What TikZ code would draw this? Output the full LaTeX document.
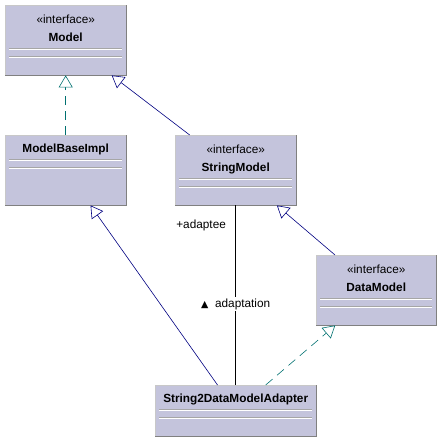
\documentclass[tikz,border=0pt]{standalone}
\usepackage{fontspec}
\setmainfont{Liberation Sans}
\newfontfamily\symfont{DejaVu Sans}
\usetikzlibrary{positioning}
\usetikzlibrary{calc}
\usetikzlibrary{arrows.meta}
\definecolor{umlfill}{RGB}{196,196,220}
\definecolor{umlnavy}{RGB}{0,0,128}
\definecolor{umlteal}{RGB}{0,112,112}
\definecolor{umledge}{RGB}{200,200,200}
\definecolor{umlshade}{RGB}{128,128,128}

\begin{document}
\begin{tikzpicture}[
    x=1pt, y=-1pt,
    box/.style={
        draw=umledge,
        fill=umlfill,
        anchor=north west,
        inner sep=0pt,
        minimum width=121pt,
        minimum height=70pt
    },
    stereo/.style={font=\fontsize{11.8}{13}\selectfont, inner sep=0pt},
    cname/.style={font=\fontsize{11.8}{13}\selectfont\bfseries, inner sep=0pt},
    sep/.style={draw=umlshade!70, line width=0.8pt},
    gen/.style={draw=umlnavy, line width=0.6pt,
        -{Triangle[open, fill=white, width=14pt, length=12pt]}},
    real/.style={draw=umlteal, line width=0.6pt, dash pattern=on 9pt off 6pt,
        -{Triangle[open, fill=white, width=14pt, length=12pt]}},
    assoc/.style={draw=black, line width=0.6pt},
    lbl/.style={font=\fontsize{11.8}{13}\selectfont, inner sep=1.5pt}
]
\useasboundingbox (0,0) rectangle (445,445);

% Classes
\node[box] (model) at (5,5) {};
\node[box] (modelbase) at (5,135) {};
\node[box] (stringmodel) at (175,135) {};
\node[box, minimum width=120pt] (datamodel) at (316,255) {};
\node[box, minimum width=161pt, minimum height=51pt] (adapter) at (155,385) {};

% Names
\node[stereo] (modelS) at ($(model.north)+(0,14)$) {«interface»};
\node[cname] (modelN) at ($(model.north)+(0,32)$) {Model};
\node[cname] (modelbaseN) at ($(modelbase.north)+(0,14)$) {ModelBaseImpl};
\node[stereo] (stringmodelS) at ($(stringmodel.north)+(0,14)$) {«interface»};
\node[cname] (stringmodelN) at ($(stringmodel.north)+(0,33)$) {StringModel};
\node[stereo] (datamodelS) at ($(datamodel.north)+(0,14)$) {«interface»};
\node[cname] (datamodelN) at ($(datamodel.north)+(0,32)$) {DataModel};
\node[cname] (adapterN) at ($(adapter.north)+(0,14)$) {String2DataModelAdapter};

% Compartments and shadows
\foreach \n/\a/\b in {model/43/51, modelbase/24/32, stringmodel/43/51,
                      datamodel/43/51, adapter/24/32} {
    \draw[sep] ($(\n.north west)+(4,\a)$) -- ($(\n.north east)+(-4,\a)$);
    \draw[white, line width=0.8pt] ($(\n.north west)+(4,\a+1)$) -- ($(\n.north east)+(-4,\a+1)$);
    \draw[sep] ($(\n.north west)+(4,\b)$) -- ($(\n.north east)+(-4,\b)$);
    \draw[white, line width=0.8pt] ($(\n.north west)+(4,\b+1)$) -- ($(\n.north east)+(-4,\b+1)$);
    \draw[umlshade, line width=1.6pt] (\n.north east) -- (\n.south east) -- (\n.south west);
}

% Arrows
\draw[real] (modelbase) -- (model);
\draw[gen] (stringmodel) -- (model);
\draw[gen] (datamodel) -- (stringmodel);
\draw[gen] (adapter) -- (modelbase);
\draw[real] (adapter) -- (datamodel);
\draw[assoc] (adapter) --
    node[lbl, pos=0.45, fill=white] (adaptation) {{\symfont\fontsize{9.5}{10}\selectfont ▲}\ \ adaptation}
    node[lbl, pos=0.89, anchor=east, xshift=-8pt] (adaptee) {+adaptee}
    (stringmodel);

\end{tikzpicture}
\end{document}
